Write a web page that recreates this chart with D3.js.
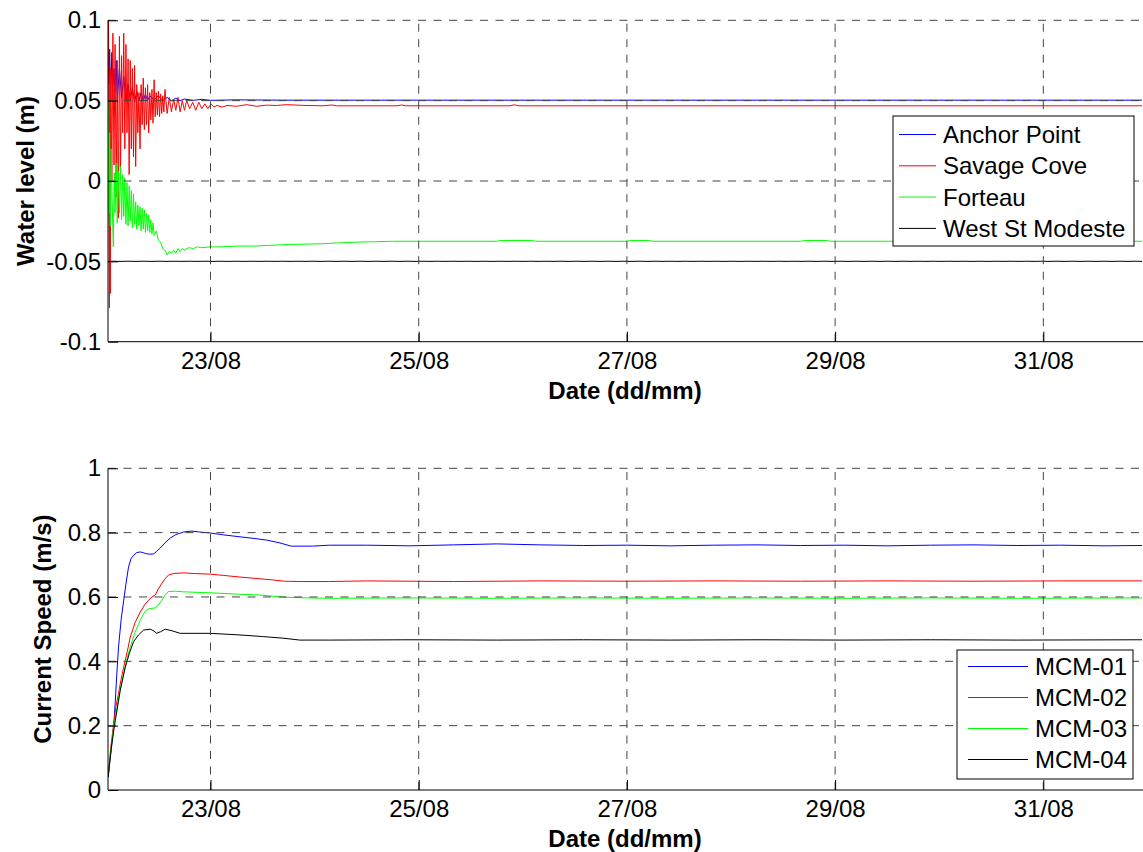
<!DOCTYPE html>
<html><head><meta charset="utf-8">
<script src="https://cdn.jsdelivr.net/npm/d3@7"></script>
<style>body{margin:0;background:#fff} text{font-family:"Liberation Sans",Arial,Helvetica,sans-serif}</style>
</head><body><svg id="c" width="1143" height="852"></svg>
<script>
// ---------- DATA (time in hours since 22/08 00:00) ----------
const xDomain = [0.37, 238.75];
const xTickHours = [24, 72, 120, 168, 216];
const xTickLabels = ["23/08", "25/08", "27/08", "29/08", "31/08"];

const yTopTicks = [-0.1, -0.05, 0, 0.05, 0.1];
const yTopLabels = ["-0.1", "-0.05", "0", "0.05", "0.1"];
const yBotTicks = [0, 0.2, 0.4, 0.6, 0.8, 1];
const yBotLabels = ["0", "0.2", "0.4", "0.6", "0.8", "1"];

const topNames = ["Anchor Point", "Savage Cove", "Forteau", "West St Modeste"];
const botNames = ["MCM-01", "MCM-02", "MCM-03", "MCM-04"];

const anchorPoint = [[0.4,0.088],[0.6,0.06],[0.75,0.082],[1.0,0.05],[1.25,0.08],[1.5,0.06],[1.75,0.07],[2.0,0.055],[2.25,0.075],[2.5,0.05],[3.0,0.07],[3.5,0.052],[4.0,0.065],[4.5,0.05],[5,0.06],[5.5,0.05],[6,0.058],[6.5,0.049],[7,0.056],[7.5,0.05],[8,0.055],[8.5,0.05],[9,0.054],[9.5,0.05],[10,0.053],[11,0.0505],[12,0.053],[13,0.05],[14,0.052],[15,0.05],[16,0.0515],[17,0.05],[18,0.051],[20,0.0502],[22,0.0508],[24,0.0502],[30,0.0505],[40,0.0503],[238.75,0.0503]];

const savageCove = [[0.4,0.065],[0.5,0.1],[0.6,-0.02],[0.7,-0.079],[0.8,0.06],[0.9,-0.07],[1.0,0.07],[1.25,0.0],[1.5,0.092],[1.75,0.01],[2.0,0.085],[2.25,-0.01],[2.5,0.075],[2.75,-0.023],[3.0,0.09],[3.25,0.005],[3.5,0.078],[3.75,0.03],[4.0,0.092],[4.25,0.02],[4.5,0.085],[4.75,0.03],[5.0,0.076],[5.25,0.004],[5.5,0.075],[5.75,0.02],[6.0,0.07],[6.25,0.015],[6.5,0.072],[6.75,0.009],[7.0,0.06],[7.25,0.03],[7.5,0.055],[7.75,0.02],[8.0,0.06],[8.25,0.035],[8.5,0.064],[8.75,0.032],[9.0,0.058],[9.25,0.035],[9.5,0.06],[9.75,0.03],[10.0,0.055],[10.25,0.038],[10.5,0.057],[10.75,0.036],[11.0,0.063],[11.25,0.04],[11.5,0.055],[11.75,0.041],[12.0,0.056],[12.25,0.04],[12.5,0.054],[12.75,0.042],[13.0,0.053],[13.25,0.043],[13.5,0.057],[14,0.042],[14.5,0.052],[15,0.043],[15.5,0.051],[16,0.044],[16.5,0.052],[17,0.043],[17.5,0.05],[18,0.044],[18.5,0.05],[19.2,0.045],[19.9,0.049],[20.6,0.044],[21.3,0.049],[22,0.045],[22.7,0.048],[23.4,0.045],[24.1,0.048],[24.8,0.046],[25.5,0.047],[26.7,0.046],[27.8,0.047],[30,0.0465],[32.3,0.0475],[34.6,0.0465],[36.9,0.0472],[39.2,0.047],[41.5,0.0475],[46,0.047],[50,0.0468],[52,0.0473],[53,0.0468],[67,0.0468],[68,0.0473],[69,0.0468],[93,0.0468],[94,0.0474],[95,0.0468],[238.75,0.0468]];

const forteau = [[0.4,0.05],[0.6,-0.02],[0.75,0.03],[0.9,-0.028],[1.1,0.02],[1.3,-0.01],[1.6,-0.041],[1.8,0.005],[2.0,-0.02],[2.25,0.011],[2.5,-0.026],[2.75,0.006],[3.0,-0.02],[3.25,0.009],[3.5,-0.024],[3.75,0.004],[4.0,-0.022],[4.25,0.002],[4.5,-0.027],[4.75,-0.001],[5.0,-0.028],[5.25,-0.003],[5.5,-0.025],[5.75,-0.006],[6.0,-0.029],[6.25,-0.008],[6.5,-0.027],[6.75,-0.013],[7.0,-0.03],[7.25,-0.015],[7.5,-0.028],[7.75,-0.016],[8.0,-0.031],[8.25,-0.017],[8.5,-0.03],[8.75,-0.018],[9.0,-0.032],[9.25,-0.02],[9.5,-0.031],[9.75,-0.021],[10,-0.032],[10.25,-0.024],[10.5,-0.033],[10.75,-0.026],[11,-0.034],[11.5,-0.031],[12,-0.037],[12.5,-0.038],[13,-0.042],[13.5,-0.043],[14,-0.046],[14.5,-0.044],[15,-0.045],[15.5,-0.043],[16,-0.045],[16.5,-0.042],[17,-0.044],[17.5,-0.042],[18,-0.043],[19,-0.0415],[20,-0.042],[21,-0.041],[22,-0.0415],[24,-0.041],[26,-0.041],[30,-0.0405],[34,-0.0405],[38,-0.04],[42,-0.0395],[46,-0.0393],[50,-0.039],[54,-0.0385],[58,-0.038],[62,-0.0378],[66,-0.0375],[90,-0.0375],[91,-0.037],[98,-0.037],[99,-0.0375],[120,-0.0375],[121,-0.037],[125,-0.037],[126,-0.0375],[160,-0.0375],[161,-0.037],[166,-0.037],[167,-0.0375],[200,-0.0375],[201,-0.037],[205,-0.037],[206,-0.0375],[238.75,-0.0375]];

const westStModeste = [[0.4,-0.05],[238.75,-0.05]];

const mcm01 = [[0.4,0.04],[0.8,0.09],[1.3,0.146],[1.7,0.2],[2.07,0.28],[2.4,0.36],[2.8,0.445],[3.4,0.53],[4.0,0.59],[4.5,0.64],[5.1,0.693],[5.7,0.72],[6.3,0.73],[7.0,0.738],[7.8,0.74],[8.4,0.738],[9.0,0.735],[10.0,0.733],[10.9,0.734],[11.6,0.742],[12.4,0.752],[13.5,0.768],[14.7,0.783],[16,0.794],[17.8,0.802],[19.7,0.805],[21.5,0.802],[23.9,0.799],[27,0.793],[30.8,0.787],[34,0.782],[36.9,0.777],[40,0.768],[42.6,0.758],[47.5,0.758],[51.5,0.761],[60,0.761],[70,0.759],[80,0.762],[90,0.765],[100,0.762],[110,0.76],[120,0.761],[130,0.759],[140,0.761],[150,0.762],[160,0.76],[170,0.761],[180,0.759],[190,0.761],[200,0.762],[210,0.76],[220,0.761],[230,0.759],[238.75,0.76]];

const mcm02 = [[0.4,0.04],[1.0,0.13],[1.68,0.208],[2.2,0.26],[2.8,0.3],[3.4,0.345],[4.0,0.382],[4.8,0.43],[5.5,0.475],[6.6,0.52],[7.8,0.553],[8.8,0.575],[9.7,0.59],[10.5,0.6],[11.25,0.606],[12,0.625],[12.8,0.643],[13.5,0.656],[14.3,0.668],[15.5,0.673],[17.8,0.675],[20,0.673],[23.9,0.671],[27,0.667],[30.8,0.662],[35,0.657],[38.4,0.653],[41,0.649],[44.6,0.648],[51.4,0.648],[60,0.65],[80,0.648],[100,0.65],[120,0.649],[140,0.65],[160,0.649],[180,0.65],[200,0.649],[220,0.65],[238.75,0.65]];

const mcm03 = [[0.4,0.04],[1.0,0.12],[1.68,0.196],[2.5,0.26],[3.2,0.315],[4.0,0.364],[4.8,0.41],[5.5,0.445],[6.6,0.49],[7.8,0.528],[8.6,0.548],[9.2,0.56],[10,0.564],[11.25,0.566],[12,0.575],[12.8,0.59],[13.5,0.605],[14.3,0.617],[16,0.618],[17.8,0.616],[23.9,0.613],[30,0.609],[35.4,0.606],[41.5,0.599],[47,0.597],[51.4,0.596],[70,0.597],[90,0.596],[110,0.597],[130,0.596],[150,0.597],[170,0.596],[190,0.597],[210,0.596],[238.75,0.597]];

const mcm04 = [[0.4,0.04],[1.2,0.14],[2.07,0.217],[3.2,0.31],[4.36,0.382],[5.3,0.425],[6.27,0.461],[7.4,0.482],[8.57,0.497],[10.1,0.5],[11,0.494],[11.6,0.487],[12.5,0.492],[13.55,0.5],[15.1,0.495],[17,0.487],[23.9,0.487],[30.8,0.482],[36,0.477],[40.7,0.472],[44.6,0.466],[51.4,0.466],[70,0.467],[90,0.466],[110,0.467],[130,0.466],[150,0.467],[170,0.466],[190,0.467],[210,0.466],[238.75,0.467]];

const colors = ["#0000ff", "#ff0000", "#00ff00", "#000000"];

// ---------- DRAW ----------
const W = 1143, H = 852;
const svg = d3.select("#c");
svg.append("rect").attr("width", W).attr("height", H).attr("fill", "#fff");
const L = 108, R = 1142;
const x = d3.scaleLinear().domain(xDomain).range([L, R]);
const FS = 24;

function panel(cfg) {
  const y = d3.scaleLinear().domain(cfg.domain).range([cfg.bottom, cfg.top]);
  const g = svg.append("g");
  const clipId = "clip" + cfg.id;
  svg.append("clipPath").attr("id", clipId).append("rect")
    .attr("x", L).attr("y", cfg.top - 1).attr("width", R - L + 10).attr("height", cfg.bottom - cfg.top + 2);

  // series
  const line = d3.line().x(d => x(d[0])).y(d => y(d[1]));
  const sg = g.append("g").attr("clip-path", `url(#${clipId})`);
  cfg.series.forEach((s, i) => {
    sg.append("path").attr("d", line(s)).attr("fill", "none")
      .attr("stroke", colors[i]).attr("stroke-width", 1).attr("stroke-linejoin", "round");
  });

  // grid
  const grid = g.append("g").attr("stroke", "#444").attr("stroke-width", 1).attr("stroke-dasharray", "8,7.5");
  cfg.ticks.forEach(t => {
    if (t === cfg.domain[0]) return;
    grid.append("line").attr("x1", L).attr("x2", R + 5).attr("y1", y(t)).attr("y2", y(t));
  });
  xTickHours.forEach(t => {
    grid.append("line").attr("x1", x(t)).attr("x2", x(t)).attr("y1", cfg.bottom).attr("y2", cfg.top);
  });

  // axes
  const ax = d3.axisBottom(x).tickValues(xTickHours).tickFormat((d, i) => xTickLabels[i])
    .tickSizeInner(-10).tickSizeOuter(0).tickPadding(10);
  const axG = g.append("g").attr("transform", `translate(0,${cfg.bottom})`).call(ax);
  const ay = d3.axisLeft(y).tickValues(cfg.ticks).tickFormat((d, i) => cfg.labels[i])
    .tickSizeInner(-10).tickSizeOuter(0).tickPadding(7);
  const ayG = g.append("g").attr("transform", `translate(${L},0)`).call(ay);
  [axG, ayG].forEach(a => {
    a.select(".domain").remove();
    a.selectAll("line").attr("stroke", "#000");
    a.selectAll("text").attr("font-size", FS).attr("fill", "#000")
      .attr("font-family", '"Liberation Sans",Arial,sans-serif');
  });
  g.append("line").attr("x1", L).attr("x2", L).attr("y1", cfg.top).attr("y2", cfg.bottom).attr("stroke", "#000");
  g.append("line").attr("x1", L).attr("x2", R + 5).attr("y1", cfg.bottom).attr("y2", cfg.bottom).attr("stroke", "#000");

  // labels
  g.append("text").attr("x", (L + R) / 2).attr("y", cfg.bottom + 57).attr("text-anchor", "middle")
    .attr("font-size", FS).attr("font-weight", "bold").text("Date (dd/mm)");
  g.append("text").attr("transform", `translate(${cfg.ylabelX},${(cfg.top + cfg.bottom) / 2}) rotate(-90)`)
    .attr("text-anchor", "middle").attr("font-size", FS).attr("font-weight", "bold").text(cfg.ylabel);

  // legend
  const lg = cfg.legend;
  const leg = g.append("g");
  leg.append("rect").attr("x", lg.x).attr("y", lg.y).attr("width", lg.w).attr("height", lg.h)
    .attr("fill", "#fff").attr("stroke", "#000").attr("stroke-width", 1);
  cfg.names.forEach((n, i) => {
    const ry = lg.row0 + i * lg.step;
    leg.append("line").attr("x1", lg.l1).attr("x2", lg.l2).attr("y1", ry).attr("y2", ry)
      .attr("stroke", colors[i]).attr("stroke-width", 1);
    leg.append("text").attr("x", lg.tx).attr("y", ry).attr("dy", "0.35em").attr("font-size", FS).text(n);
  });
}

panel({
  id: "top", top: 20.3, bottom: 341.7, domain: [-0.1, 0.1], ticks: yTopTicks, labels: yTopLabels,
  series: [anchorPoint, savageCove, forteau, westStModeste], names: topNames,
  ylabel: "Water level (m)", ylabelX: 34,
  legend: { x: 893, y: 116, w: 241, h: 130, row0: 134.5, step: 31.3, l1: 899, l2: 936, tx: 943 }
});
panel({
  id: "bot", top: 468.3, bottom: 790, domain: [0, 1], ticks: yBotTicks, labels: yBotLabels,
  series: [mcm01, mcm02, mcm03, mcm04], names: botNames,
  ylabel: "Current Speed (m/s)", ylabelX: 51,
  legend: { x: 957, y: 650, w: 176, h: 129, row0: 666.5, step: 31, l1: 968, l2: 1028, tx: 1035 }
});
</script></body></html>
